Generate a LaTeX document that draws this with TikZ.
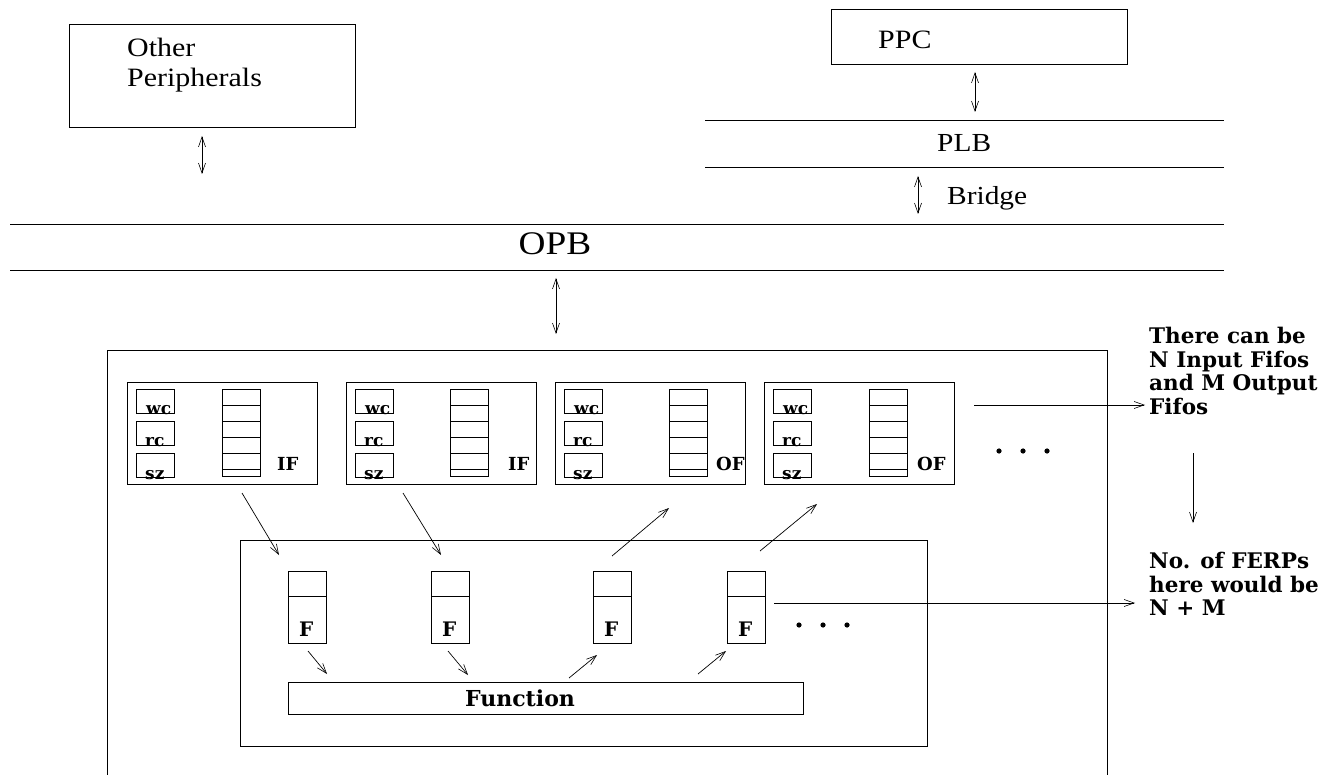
\documentclass[tikz,border=0pt]{standalone}
\usepackage{fontspec}
\setmainfont{Liberation Serif}[FakeStretch=1.13]
\newfontfamily\schl{DejaVu Serif}
\usetikzlibrary{arrows.meta}
\tikzset{
  ln/.style={line width=0.8pt},
  bx/.style={draw, line width=0.8pt, inner sep=0pt, outer sep=0pt, anchor=north west},
  tip/.tip={Straight Barb[length=10pt,width=7pt,line width=0.6pt]},
  arr/.style={line width=0.7pt, -tip},
  darr/.style={line width=0.7pt, tip-tip},
  toplbl/.style={inner sep=0pt, anchor=base west},
  blbl/.style={inner sep=0pt, anchor=base west, font=\schl\bfseries},
  dot/.style={fill=black}
}
\begin{document}
\begin{tikzpicture}[x=1pt,y=-1pt]
\useasboundingbox (0,0) rectangle (1340,775);

% ---------- top part ----------
\node[bx, minimum width=286pt, minimum height=103pt] (other) at (69,24) {};
\node[toplbl, font=\fontsize{26.5}{30}\selectfont] (otherA) at (127,57) {Other};
\node[toplbl, font=\fontsize{26.5}{30}\selectfont] (otherB) at (127,87) {Peripherals};

\node[bx, minimum width=296pt, minimum height=55pt] (ppc) at (831,9) {};
\node[toplbl, font=\fontsize{26.5}{30}\selectfont] (ppct) at (878,49) {PPC};

\coordinate (plbL1) at (705,120); \coordinate (plbR1) at (1224,120);
\coordinate (plbL2) at (705,167); \coordinate (plbR2) at (1224,167);
\draw[ln] (plbL1) -- (plbR1);
\draw[ln] (plbL2) -- (plbR2);
\node[toplbl, font=\fontsize{26}{30}\selectfont] (plbt) at (937,152) {PLB};
\node[toplbl, font=\fontsize{26}{30}\selectfont] (bridget) at (947,205) {Bridge};

\coordinate (opbL1) at (10,224); \coordinate (opbR1) at (1224,224);
\coordinate (opbL2) at (10,270); \coordinate (opbR2) at (1224,270);
\draw[ln] (opbL1) -- (opbR1);
\draw[ln] (opbL2) -- (opbR2);
\node[inner sep=0pt, anchor=base, font=\fontsize{33}{36}\selectfont] (opbt) at (555,255) {OPB};

% double arrows
\coordinate (oa1) at (202,136); \coordinate (oa2) at (202,174);
\draw[darr] (oa1) -- (oa2);
\coordinate (pa1) at (975,72); \coordinate (pa2) at (975,112);
\draw[darr] (pa1) -- (pa2);
\coordinate (ba1) at (918,176); \coordinate (ba2) at (918,214);
\draw[darr] (ba1) -- (ba2);
\coordinate (ma1) at (556,278); \coordinate (ma2) at (556,334);
\draw[darr] (ma1) -- (ma2);

% ---------- big box ----------
\coordinate (bbBL) at (107,800); \coordinate (bbTL) at (107,350);
\coordinate (bbTR) at (1107,350); \coordinate (bbBR) at (1107,800);
\draw[ln] (bbBL) -- (bbTL) -- (bbTR) -- (bbBR);

% fifos
\foreach \i/\x/\s/\l/\lx in {1/127/95/IF/277, 2/346/104/IF/508, 3/555/114/OF/716, 4/764/105/OF/917}{
  \node[bx, minimum width=190pt, minimum height=102pt] (fifo\i) at (\x,382) {};
  \node[bx, minimum width=38pt, minimum height=24pt] (wc\i) at ({\x+9},389) {};
  \node[bx, minimum width=38pt, minimum height=24pt] (rc\i) at ({\x+9},421) {};
  \node[bx, minimum width=38pt, minimum height=24pt] (sz\i) at ({\x+9},453) {};
  \node[blbl, font=\schl\bfseries\fontsize{17}{18}\selectfont] (wct\i) at ({\x+19},414) {wc};
  \node[blbl, font=\schl\bfseries\fontsize{17}{18}\selectfont] (rct\i) at ({\x+18},446) {rc};
  \node[blbl, font=\schl\bfseries\fontsize{17}{18}\selectfont] (szt\i) at ({\x+18},479) {sz};
  \node[bx, minimum width=38pt, minimum height=87pt] (stk\i) at ({\x+\s},389) {};
  \foreach \yy in {405,421,437,453,469}{
    \draw[ln] ({\x+\s},\yy) -- ({\x+\s+38},\yy);
  }
  \node[blbl, font=\schl\bfseries\fontsize{18}{20}\selectfont] (ft\i) at (\lx,470) {\l};
}

\foreach \xx in {999,1023,1047}{ \fill[dot] (\xx,451) circle[radius=2.6pt]; }

% inner box
\node[bx, minimum width=687pt, minimum height=206pt] (inner) at (240,540) {};

\foreach \i/\x in {1/288,2/431,3/593,4/727}{
  \node[bx, minimum width=38pt, minimum height=72pt] (f\i) at (\x,571) {};
  \draw[ln] (\x,596) -- ({\x+38},596);
  \node[blbl, font=\schl\bfseries\fontsize{20}{22}\selectfont] (fl\i) at ({\x+11},636) {F};
}
\foreach \xx in {799,823,847}{ \fill[dot] (\xx,625) circle[radius=2.6pt]; }

\node[bx, minimum width=515pt, minimum height=32pt] (func) at (288,682) {};
\node[inner sep=0pt, anchor=base, font=\schl\bfseries\fontsize{22}{24}\selectfont] (funct) at (520,706) {Function};

% arrows fifo -> F
\coordinate (a1s) at (242,493); \coordinate (a1e) at (279,555);
\coordinate (a2s) at (403,493); \coordinate (a2e) at (441,555);
\coordinate (a3s) at (612,556); \coordinate (a3e) at (669,508);
\coordinate (a4s) at (760,551); \coordinate (a4e) at (817,504);
\draw[arr] (a1s) -- (a1e);
\draw[arr] (a2s) -- (a2e);
\draw[arr] (a3s) -- (a3e);
\draw[arr] (a4s) -- (a4e);
% arrows F <-> Function
\coordinate (b1s) at (308,651); \coordinate (b1e) at (327,674);
\coordinate (b2s) at (448,651); \coordinate (b2e) at (468,675);
\coordinate (b3s) at (569,678); \coordinate (b3e) at (597,655);
\coordinate (b4s) at (698,674); \coordinate (b4e) at (726,651);
\draw[arr] (b1s) -- (b1e);
\draw[arr] (b2s) -- (b2e);
\draw[arr] (b3s) -- (b3e);
\draw[arr] (b4s) -- (b4e);

% right notes
\node[blbl, anchor=north west, align=left, font=\schl\bfseries\fontsize{21.5}{23.5}\selectfont] (note1) at (1149,327)
  {There can be\\N Input Fifos\\and M Output\\Fifos};
\node[blbl, anchor=north west, align=left, font=\schl\bfseries\fontsize{21.5}{23.5}\selectfont] (note2) at (1149,552)
  {No. of FERPs\\here would be\\N + M};

\coordinate (r1s) at (974,405); \coordinate (r1e) at (1145,405);
\draw[arr] (r1s) -- (r1e);
\coordinate (r2s) at (774,603); \coordinate (r2e) at (1135,603);
\draw[arr] (r2s) -- (r2e);
\coordinate (r3s) at (1193,453); \coordinate (r3e) at (1193,523);
\draw[arr] (r3s) -- (r3e);
\end{tikzpicture}
\end{document}
